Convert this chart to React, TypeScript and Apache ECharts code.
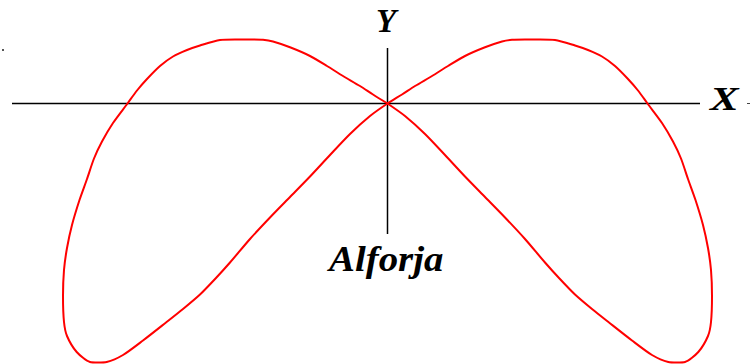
import React, { useEffect, useRef } from "react";
import * as echarts from "echarts";

// Curve, in pixel units relative to the crossing point
// (x to the right, y upward). Left loop first, then right loop.
const curveX = [
  0, -14.5, -27.5, -44.5, -60.5, -77.5, -97.5, -114.5, -124.5, -137.5, -152.5,
  -167.5, -187.5, -200.5, -214.5, -227.5, -240.5, -250.5, -260, -274.5, -285.5,
  -293.5, -300.5, -308, -315.5, -320.5, -323.5, -324.5, -323.5, -320.5, -310.8,
  -297.5, -289.5, -280.8, -264.5, -244.5, -221.5, -204.5, -187.5, -171.5, -157.5,
  -137.5, -117.5, -97.5, -77.5, -57.5, -37.5, -17.5, 0,
  14.5, 27.5, 44.5, 60.5, 77.5, 97.5, 114.5, 124.5, 137.5, 152.5,
  167.5, 187.5, 200.5, 214.5, 227.5, 240.5, 250.5, 260, 274.5, 285.5,
  293.5, 300.5, 308, 315.5, 320.5, 323.5, 324.5, 323.5, 320.5, 310.8,
  297.5, 289.5, 280.8, 264.5, 244.5, 221.5, 204.5, 187.5, 171.5, 157.5,
  137.5, 117.5, 97.5, 77.5, 57.5, 37.5, 17.5, 0,
];
const curveY = [
  0, 9, 17.5, 27.5, 37.5, 47.5, 56.2, 62, 63.7, 64, 64,
  63.5, 58, 53.5, 47, 37.5, 24.5, 13, 0, -19.5, -38,
  -55, -75.5, -96.5, -121.5, -144.5, -166.5, -192.5, -218.5, -232.5, -248.5,
  -258.5, -259, -258.5, -251.5, -237, -219, -205.5, -191, -174.5, -159,
  -135.5, -114, -93.5, -73, -51.5, -30.5, -12.5, 0,
  9, 17.5, 27.5, 37.5, 47.5, 56.2, 62, 63.7, 64, 64,
  63.5, 58, 53.5, 47, 37.5, 24.5, 13, 0, -19.5, -38,
  -55, -75.5, -96.5, -121.5, -144.5, -166.5, -192.5, -218.5, -232.5, -248.5,
  -258.5, -259, -258.5, -251.5, -237, -219, -205.5, -191, -174.5, -159,
  -135.5, -114, -93.5, -73, -51.5, -30.5, -12.5, 0,
];

const xAxisLineX = [-375.5, 312.5];
const xAxisLineY = [0, 0];
const yAxisLineX = [0, 0];
const yAxisLineY = [55.5, -130.5];

const titleY = "Y";
const titleX = "X";
const curveName = "Alforja";

const pair = (xs: number[], ys: number[]) => xs.map((x, i) => [x, ys[i]]);

export default function App() {
  const ref = useRef<HTMLDivElement>(null);
  useEffect(() => {
    if (!ref.current) return;
    const chart = echarts.init(ref.current, undefined, { renderer: "svg" });
    const font = {
      fontFamily: "'Liberation Serif', 'Times New Roman', serif",
      fontWeight: "bold" as const,
      fontStyle: "italic" as const,
      fill: "#000",
    };
    chart.setOption({
      animation: false,
      backgroundColor: "#ffffff",
      grid: { left: 0, right: 0, top: 0, bottom: 0 },
      xAxis: { type: "value", min: -387.5, max: 362.5, show: false },
      yAxis: { type: "value", min: -260.5, max: 103.5, show: false },
      series: [
        {
          type: "line",
          data: pair(xAxisLineX, xAxisLineY),
          showSymbol: false,
          silent: true,
          lineStyle: { color: "#000", width: 1.5 },
        },
        {
          type: "line",
          data: pair(yAxisLineX, yAxisLineY),
          showSymbol: false,
          silent: true,
          lineStyle: { color: "#000", width: 1.5 },
        },
        {
          type: "line",
          data: pair(curveX, curveY),
          showSymbol: false,
          smooth: 0.25,
          silent: true,
          lineStyle: { color: "#ff0000", width: 2 },
        },
      ],
      graphic: [
        {
          type: "text",
          x: 376,
          y: 4,
          style: { ...font, text: titleY, fontSize: 33 },
        },
        {
          type: "text",
          x: 710,
          y: 82,
          scaleX: 1.3,
          style: { ...font, text: titleX, fontSize: 33 },
        },
        {
          type: "text",
          x: 329,
          y: 242,
          scaleX: 1.11,
          style: { ...font, text: curveName, fontSize: 35 },
        },
        {
          type: "rect",
          shape: { x: 2, y: 49, width: 2, height: 2 },
          style: { fill: "#555" },
        },
        {
          type: "rect",
          shape: { x: 747, y: 103, width: 3, height: 1 },
          style: { fill: "#444" },
        },
      ],
    });
    return () => chart.dispose();
  }, []);
  return (
    <div
      ref={ref}
      style={{ position: "fixed", left: 0, top: 0, width: 750, height: 364, background: "#fff" }}
    />
  );
}
